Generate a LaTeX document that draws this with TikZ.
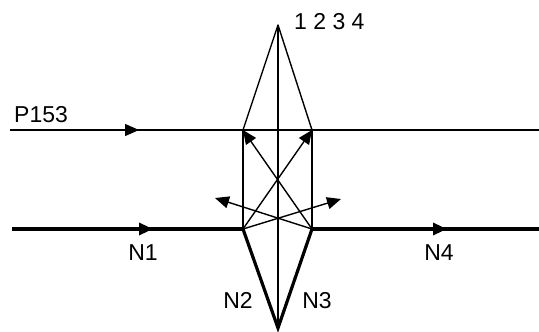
\documentclass[tikz,border=0pt]{standalone}
\usepackage{fontspec}
\setmainfont{Liberation Sans}
\usetikzlibrary{arrows.meta}

\begin{document}
\begin{tikzpicture}[x=1pt, y=-1pt,
    thinline/.style={line width=1.4pt},
    thickline/.style={line width=3.2pt},
    tip/.style={-{Triangle[length=14pt,width=12pt]}},
    lbl/.style={font=\fontsize{23}{26}\selectfont, inner sep=0pt}]
        \useasboundingbox (0,0) rectangle (539,332);

        % Taskai
        \coordinate (T) at (278, 25);
        \coordinate (B) at (278, 328);
        \coordinate (PL) at (243, 130);
        \coordinate (PR) at (312, 130);
        \coordinate (NL) at (243, 229);
        \coordinate (NR) at (312, 229);
        \coordinate (P0) at (10, 130);
        \coordinate (P1) at (539, 130);
        \coordinate (N0) at (12, 229);
        \coordinate (N5) at (539, 229);
        \coordinate (LA) at (215, 198);
        \coordinate (RA) at (341, 199);

        % Linija P153
        \draw[thinline] (P0) -- (P1);
        \draw[thinline, tip] (P0) -- (139, 130);

        % Linija N
        \draw[thickline] (N0) -- (NL);
        \draw[thickline] (NR) -- (N5);
        \draw[thickline, tip] (N0) -- (153, 229);
        \draw[thickline, tip] (NR) -- (447, 229);

        % Trikampiai
        \draw[thinline, line join=round] (PL) -- (T) -- (PR);
        \draw[thinline] (T) -- (B);
        \draw[thickline, line join=miter] (NL) -- (B) -- (NR);

        % Statmenys
        \draw[thinline] (PL) -- (NL);
        \draw[thinline] (PR) -- (NR);

        % Istrizaines
        \draw[thinline, tip] (NL) -- (PR);
        \draw[thinline, tip] (NR) -- (PL);
        \draw[thinline, tip] (NL) -- (RA);
        \draw[thinline, tip] (NR) -- (LA);

        % Uzrasai
        \node[lbl, anchor=base west] (n1234) at (294, 29) {1 2 3 4};
        \node[lbl, anchor=base west] (p153) at (14, 122) {P153};
        \node[lbl, anchor=base] (n1) at (143, 260) {N1};
        \node[lbl, anchor=base] (n4) at (439, 260) {N4};
        \node[lbl, anchor=base] (n2) at (238, 308) {N2};
        \node[lbl, anchor=base] (n3) at (317, 308) {N3};
    \end{tikzpicture}
\end{document}
